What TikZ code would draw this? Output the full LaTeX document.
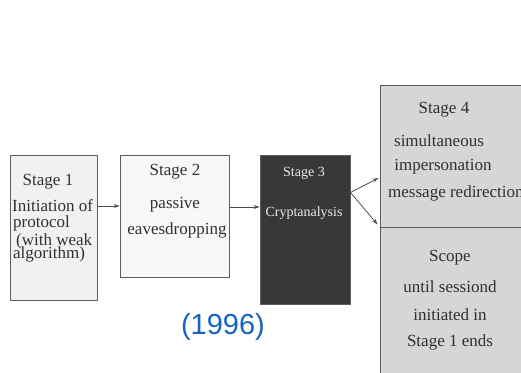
\documentclass[tikz,border=0pt]{standalone}
\usepackage{fontspec}
\setmainfont{Liberation Serif}
\newfontfamily\yearfont{Liberation Sans}
\usetikzlibrary{arrows.meta}
\definecolor{ink}{HTML}{303030}
\definecolor{frame}{HTML}{5C5C5C}
\definecolor{paleA}{HTML}{F1F1F1}
\definecolor{paleB}{HTML}{F8F8F8}
\definecolor{darkbox}{HTML}{383838}
\definecolor{greybox}{HTML}{D6D6D6}
\definecolor{yearblue}{HTML}{1565C0}
\tikzset{
  stagebox/.style={draw=frame, line width=0.9pt, inner sep=0pt},
  txt/.style={text=ink, inner sep=0pt, font=\fontsize{17}{20}\selectfont},
  smalltxt/.style={text=white!92!black, inner sep=0pt, font=\fontsize{14}{16}\selectfont},
  arr/.style={draw=frame!85!black, line width=0.8pt, -{Stealth[length=6pt,width=4pt]}}
}
\begin{document}
\begin{tikzpicture}[x=1pt,y=-1pt]
\useasboundingbox (0,0) rectangle (521,372);
\clip (0,0) rectangle (521,372);

% stage boxes
\node[stagebox, fill=paleA, minimum width=87pt, minimum height=145pt] (b1) at (53.5,227.5) {};
\node[stagebox, fill=paleB, minimum width=109pt, minimum height=122pt] (b2) at (174.5,216) {};
\node[stagebox, fill=darkbox, minimum width=90pt, minimum height=149pt] (b3) at (305,229.5) {};
\node[stagebox, fill=greybox, minimum width=155pt, minimum height=142pt] (b4) at (457.5,156) {};
\node[stagebox, fill=greybox, minimum width=155pt, minimum height=168pt] (scope) at (457.5,311) {};

% stage 1 text
\node[txt] (s1) at (48,182) {Stage 1};
\node[txt, anchor=west] (s1a) at (12,206) {Initiation of};
\node[txt, anchor=west] (s1b) at (13,223) {protocol};
\node[txt, anchor=west] (s1c) at (16,241) {(with weak};
\node[txt, anchor=west] (s1d) at (13,254) {algorithm)};

% stage 2 text
\node[txt] (s2) at (175,172) {Stage 2};
\node[txt] (s2a) at (175,205) {passive};
\node[txt] (s2b) at (177,230) {eavesdropping};

% stage 3 text
\node[smalltxt] (s3) at (304,173) {Stage 3};
\node[smalltxt] (s3a) at (304,213) {Cryptanalysis};

% stage 4 text
\node[txt] (s4) at (444,110) {Stage 4};
\node[txt] (s4a) at (439,141) {simultaneous};
\node[txt] (s4b) at (443,167) {impersonation};
\node[txt, anchor=west] (s4c) at (388,193) {message redirection};

% scope text
\node[txt] (sc) at (450,258) {Scope};
\node[txt] (sca) at (450,287) {until sessiond};
\node[txt] (scb) at (450,315) {initiated in};
\node[txt] (scc) at (450,342) {Stage 1 ends};

% year
\node[inner sep=0pt, text=yearblue, font=\yearfont\fontsize{29}{32}\selectfont] (year) at (223,327) {(1996)};

% connectors
\path (b1.east) ++(0,-21.5) coordinate (p12);
\draw[arr] (p12) -- (p12 -| b2.west);
\path (b2.east) ++(0,-9) coordinate (p23);
\draw[arr] (p23) -- (p23 -| b3.west);
\path (b3.east) ++(0,-37) coordinate (p34);
\path (b4.west) ++(-1,22) coordinate (q4a);
\path (b4.south west) ++(-2,-3) coordinate (q4b);
\draw[arr] (p34) -- (q4a);
\draw[arr] (p34) -- (q4b);
\end{tikzpicture}
\end{document}
